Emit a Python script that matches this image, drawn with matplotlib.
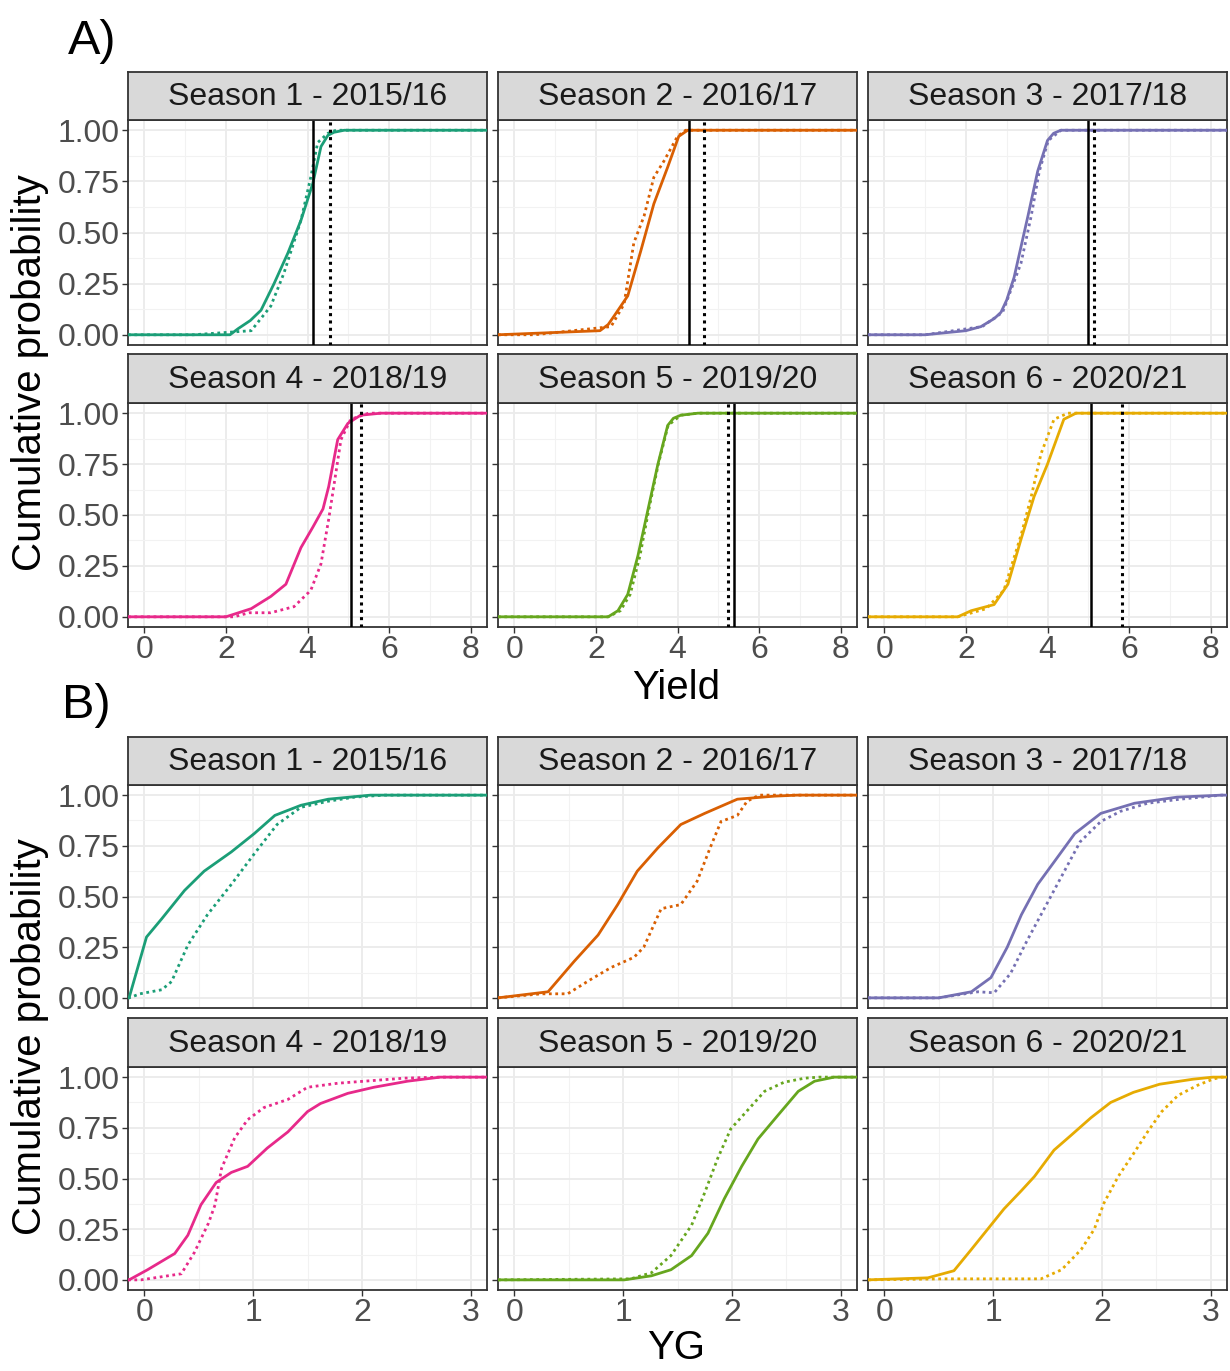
import numpy as np
import matplotlib.pyplot as plt

plt.rcParams['font.family'] = ['Liberation Sans', 'DejaVu Sans']

################### Datos ###################
seasons = ["Season 1 - 2015/16", "Season 2 - 2016/17", "Season 3 - 2017/18",
           "Season 4 - 2018/19", "Season 5 - 2019/20", "Season 6 - 2020/21"]
colors = ["#1B9E77", "#D95F02", "#7570B3", "#E7298A", "#66A61E", "#E6AB02"]

# A) Yield: ECDF observado (solido) y simulado (punteado)
yield_solid = [
    [(2.1, 0.0), (2.3, 0.03), (2.6, 0.07), (2.86, 0.12), (3.18, 0.25), (3.52, 0.40), (3.84, 0.56), (4.13, 0.74), (4.33, 0.92), (4.5, 0.975), (4.65, 0.99), (4.9, 1.0)],
    [(2.1, 0.02), (2.3, 0.05), (2.44, 0.09), (2.78, 0.19), (3.1, 0.41), (3.42, 0.64), (3.76, 0.82), (4.03, 0.97), (4.25, 1.0)],
    [(1.0, 0.0), (2.0, 0.02), (2.37, 0.04), (2.7, 0.08), (2.86, 0.11), (3.0, 0.17), (3.18, 0.28), (3.52, 0.58), (3.76, 0.80), (4.0, 0.95), (4.15, 0.985), (4.33, 1.0)],
    [(2.0, 0.0), (2.62, 0.04), (3.1, 0.10), (3.47, 0.16), (3.84, 0.34), (4.13, 0.44), (4.38, 0.53), (4.52, 0.64), (4.74, 0.87), (4.99, 0.95), (5.3, 0.99), (5.8, 1.0)],
    [(2.3, 0.0), (2.54, 0.03), (2.78, 0.11), (3.03, 0.30), (3.28, 0.53), (3.52, 0.75), (3.76, 0.94), (3.9, 0.975), (4.08, 0.99), (4.5, 1.0)],
    [(1.8, 0.0), (2.13, 0.03), (2.69, 0.06), (3.03, 0.16), (3.35, 0.38), (3.67, 0.59), (4.0, 0.75), (4.4, 0.97), (4.7, 1.0)],
]
yield_dotted = [
    [(1.2, 0.0), (2.62, 0.02), (3.1, 0.14), (3.42, 0.30), (3.84, 0.56), (4.08, 0.77), (4.25, 0.94), (4.5, 0.985), (4.7, 1.0)],
    [(0.5, 0.0), (2.37, 0.04), (2.69, 0.15), (2.93, 0.45), (3.18, 0.58), (3.42, 0.77), (3.67, 0.85), (4.0, 0.97), (4.2, 1.0)],
    [(1.0, 0.0), (2.4, 0.04), (2.9, 0.11), (3.35, 0.35), (3.6, 0.58), (3.8, 0.80), (4.02, 0.95), (4.33, 1.0)],
    [(2.2, 0.0), (2.57, 0.02), (3.1, 0.02), (3.67, 0.05), (4.08, 0.13), (4.33, 0.26), (4.52, 0.48), (4.69, 0.70), (4.82, 0.87), (5.06, 0.97), (5.5, 1.0)],
    [(2.3, 0.0), (2.6, 0.03), (2.84, 0.11), (3.08, 0.30), (3.3, 0.53), (3.53, 0.75), (3.77, 0.94), (4.08, 0.99), (4.5, 1.0)],
    [(1.8, 0.0), (2.5, 0.04), (2.93, 0.13), (3.35, 0.40), (3.6, 0.59), (3.84, 0.80), (4.16, 0.97), (4.5, 1.0)],
]
# lineas verticales (solido, punteado)
yield_vline_solid = [4.13, 4.28, 4.99, 5.06, 5.38, 5.06]
yield_vline_dotted = [4.55, 4.65, 5.13, 5.30, 5.23, 5.82]

# B) YG
yg_solid = [
    [(-0.14, 0.0), (0.02, 0.30), (0.16, 0.39), (0.37, 0.53), (0.55, 0.625), (0.80, 0.72), (1.01, 0.81), (1.20, 0.90), (1.44, 0.95), (1.69, 0.98), (2.08, 1.0)],
    [(0.31, 0.03), (0.55, 0.18), (0.77, 0.31), (0.95, 0.46), (1.13, 0.625), (1.32, 0.74), (1.53, 0.855), (1.75, 0.91), (2.05, 0.98), (2.39, 0.995), (2.6, 1.0)],
    [(0.5, 0.0), (0.80, 0.03), (0.98, 0.10), (1.13, 0.25), (1.26, 0.41), (1.41, 0.56), (1.56, 0.67), (1.75, 0.81), (1.99, 0.91), (2.30, 0.96), (2.69, 0.99), (3.1, 1.0)],
    [(-0.14, 0.0), (0.03, 0.05), (0.28, 0.13), (0.40, 0.22), (0.52, 0.37), (0.66, 0.48), (0.80, 0.53), (0.95, 0.56), (1.13, 0.65), (1.32, 0.73), (1.50, 0.83), (1.62, 0.87), (1.87, 0.92), (2.11, 0.95), (2.42, 0.98), (2.72, 1.0)],
    [(1.01, 0.0), (1.26, 0.02), (1.44, 0.05), (1.63, 0.12), (1.78, 0.23), (1.93, 0.40), (2.09, 0.56), (2.24, 0.695), (2.42, 0.81), (2.61, 0.93), (2.76, 0.98), (2.94, 1.0)],
    [(0.40, 0.01), (0.64, 0.045), (0.80, 0.15), (0.95, 0.25), (1.10, 0.35), (1.26, 0.44), (1.38, 0.51), (1.56, 0.64), (1.71, 0.71), (1.90, 0.80), (2.08, 0.875), (2.29, 0.925), (2.53, 0.965), (2.84, 0.99), (3.02, 1.0)],
]
yg_dotted = [
    [(-0.14, 0.0), (-0.04, 0.02), (0.16, 0.04), (0.25, 0.08), (0.40, 0.26), (0.58, 0.41), (0.80, 0.56), (1.01, 0.71), (1.22, 0.855), (1.44, 0.94), (1.69, 0.97), (1.93, 0.99), (2.2, 1.0)],
    [(0.25, 0.02), (0.49, 0.02), (0.70, 0.09), (0.89, 0.15), (1.10, 0.20), (1.19, 0.25), (1.35, 0.44), (1.53, 0.46), (1.68, 0.575), (1.80, 0.74), (1.90, 0.87), (2.05, 0.90), (2.14, 0.97), (2.25, 1.0)],
    [(0.5, 0.0), (0.86, 0.03), (1.01, 0.025), (1.16, 0.12), (1.31, 0.28), (1.47, 0.44), (1.62, 0.59), (1.80, 0.77), (1.99, 0.87), (2.17, 0.92), (2.42, 0.96), (2.72, 0.98), (3.1, 1.0)],
    [(-0.03, 0.0), (0.34, 0.03), (0.46, 0.135), (0.59, 0.28), (0.65, 0.37), (0.71, 0.55), (0.83, 0.70), (0.95, 0.79), (1.10, 0.85), (1.32, 0.89), (1.50, 0.95), (1.78, 0.97), (2.39, 0.995), (2.72, 1.0)],
    [(1.07, 0.005), (1.26, 0.035), (1.44, 0.12), (1.63, 0.27), (1.75, 0.43), (1.87, 0.60), (1.99, 0.745), (2.15, 0.84), (2.30, 0.93), (2.48, 0.975), (2.67, 0.995), (2.8, 1.0)],
    [(0.55, 0.005), (1.44, 0.005), (1.63, 0.05), (1.81, 0.15), (1.93, 0.25), (2.02, 0.38), (2.15, 0.51), (2.30, 0.63), (2.42, 0.73), (2.55, 0.83), (2.70, 0.91), (2.88, 0.96), (3.02, 0.99), (3.1, 1.0)],
]

yield_xticks = [0, 2, 4, 6, 8]
yg_xticks = [0, 1, 2, 3]
yticks = [0.0, 0.25, 0.5, 0.75, 1.0]

################### Figura ###################
W, H = 1230, 1371
fig = plt.figure(figsize=(W / 100, H / 100), dpi=100)

col_left = [128, 498, 868]
panel_w = 359
grey20 = "#333333"


def px_axes(x0, y0, w, h):
    return fig.add_axes([x0 / W, 1 - (y0 + h) / H, w / W, h / H])


def ecdf_line(ax, pts, xlim, color, dotted):
    xs = [xlim[0]] + [p[0] for p in pts] + [xlim[1]]
    ys = [0.0] + [p[1] for p in pts] + [1.0]
    ls = (0, (1.0, 1.3)) if dotted else '-'
    ax.plot(xs, ys, color=color, lw=2.0, ls=ls, zorder=3, solid_capstyle='butt',
            solid_joinstyle='round')


def facet_grid(rows, solid, dotted, xlim, xticks, xminor, vsolid=None, vdotted=None):
    for i in range(6):
        r, c = divmod(i, 3)
        strip_top, plot_top, plot_bot = rows[r]
        ax = px_axes(col_left[c], plot_top, panel_w, plot_bot - plot_top)
        ax.set_xlim(xlim)
        ax.set_ylim(-0.05, 1.05)
        ax.set_xticks(xticks)
        ax.set_xticks(xminor, minor=True)
        ax.set_yticks(yticks)
        ax.set_yticks([0.125, 0.375, 0.625, 0.875], minor=True)
        ax.grid(which='major', color='#EBEBEB', lw=1.3)
        ax.grid(which='minor', color='#F2F2F2', lw=0.8)
        ax.set_axisbelow(True)
        for s in ax.spines.values():
            s.set_color(grey20)
            s.set_linewidth(1.3)
        ax.tick_params(which='minor', length=0)
        ax.tick_params(which='major', length=4, width=1, color=grey20,
                       labelsize=23, labelcolor='#4D4D4D', pad=2)
        if c == 0:
            ax.set_yticklabels([f"{v:.2f}" for v in yticks])
        else:
            ax.set_yticklabels([])
        if r == 1:
            ax.set_xticklabels([str(v) for v in xticks])
        else:
            ax.set_xticklabels([])
            ax.tick_params(axis='x', length=0)
        ecdf_line(ax, dotted[i], xlim, colors[i], True)
        ecdf_line(ax, solid[i], xlim, colors[i], False)
        if vsolid is not None:
            ax.axvline(vsolid[i], color='black', lw=1.8, zorder=4)
            ax.axvline(vdotted[i], color='black', lw=2.2, ls=(0, (1.0, 1.4)), zorder=4)
        # strip
        sax = px_axes(col_left[c], strip_top, panel_w, plot_top - strip_top)
        sax.set_xticks([])
        sax.set_yticks([])
        sax.set_facecolor('#D9D9D9')
        for s in sax.spines.values():
            s.set_color(grey20)
            s.set_linewidth(1.3)
        sax.text(0.5, 0.47, seasons[i], ha='center', va='center', fontsize=23,
                 color='#1A1A1A', transform=sax.transAxes)


# Panel A
rows_a = [(72, 120, 345), (354, 403, 627)]
facet_grid(rows_a, yield_solid, yield_dotted, (-0.4, 8.4), yield_xticks, [1, 3, 5, 7],
           yield_vline_solid, yield_vline_dotted)
# Panel B
rows_b = [(737, 785, 1008), (1018, 1067, 1290)]
facet_grid(rows_b, yg_solid, yg_dotted, (-0.15, 3.15), yg_xticks, [0.5, 1.5, 2.5])

fig.text(68 / W, 1 - 42 / H, "A)", fontsize=35, ha='left', va='center')
fig.text(62 / W, 1 - 705 / H, "B)", fontsize=35, ha='left', va='center')
fig.text(676 / W, 1 - 688 / H, "Yield", fontsize=29, ha='center', va='center')
fig.text(676 / W, 1 - 1348 / H, "YG", fontsize=29, ha='center', va='center')
fig.text(30 / W, 1 - 373 / H, "Cumulative probability", fontsize=29, rotation=90,
         ha='center', va='center')
fig.text(30 / W, 1 - 1037 / H, "Cumulative probability", fontsize=29, rotation=90,
         ha='center', va='center')

fig.savefig("out.png", dpi=100, facecolor='white')
